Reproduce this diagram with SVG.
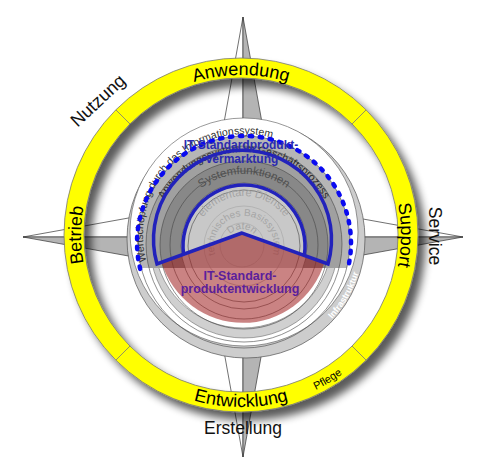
<svg xmlns="http://www.w3.org/2000/svg" width="477" height="472" viewBox="0 0 477 472">
<defs>
<style>
text{font-family:"Liberation Sans",Arial,sans-serif}
.nw{fill:#fff;stroke:#333;stroke-width:0.7;stroke-linejoin:round}
.ng{fill:#b4b4b4;stroke:#333;stroke-width:0.7;stroke-linejoin:round}
.rt{font-size:18px;fill:#000}
.ot{font-size:17.5px;fill:#111}
.ol{fill:none;stroke:#444;stroke-width:0.6}
.oll{fill:none;stroke:#a9a9a9;stroke-width:0.7}
.div{stroke:#777;stroke-width:0.8}
</style>
<filter id="shadow" x="-15%" y="-15%" width="135%" height="135%">
<feGaussianBlur in="SourceAlpha" stdDeviation="4.5"/>
<feOffset dx="7" dy="8"/>
<feComponentTransfer><feFuncA type="linear" slope="0.65"/></feComponentTransfer>
<feMerge><feMergeNode/><feMergeNode in="SourceGraphic"/></feMerge>
</filter>
<clipPath id="cut"><rect x="0" y="0" width="477" height="268"/></clipPath>
<path id="pTop" d="M241,395 A160,160 0 1 1 241,75 A160,160 0 1 1 241,395"/>
<path id="pRight" d="M81,235 A160,160 0 1 1 401,235 A160,160 0 1 1 81,235"/>
<path id="pLeft" d="M401,235 A160,160 0 1 1 81,235 A160,160 0 1 1 401,235"/>
<path id="pBot" d="M241,63 A172,172 0 1 0 241,407 A172,172 0 1 0 241,63"/>
<path id="pDaten" d="M242,261 A16,16 0 1 1 242,229 A16,16 0 1 1 242,261"/>
<path id="pBasis" d="M244,276 A30,30 0 1 1 244,216 A30,30 0 1 1 244,276"/>
<path id="pElem" d="M244,296 A50,50 0 1 1 244,196 A50,50 0 1 1 244,296"/>
<path id="pSys" d="M244,318 A72,72 0 1 1 244,174 A72,72 0 1 1 244,318"/>
<path id="pAnw" d="M244,336 A92,92 0 1 1 244,152 A92,92 0 1 1 244,336"/>
<path id="pWert" d="M244,336 A101,101 0 1 1 244,134 A101,101 0 1 1 244,336"/>
<path id="pInfra" d="M246,121.5 A117.5,117.5 0 1 0 246,356.5 A117.5,117.5 0 1 0 246,121.5"/>
</defs>
<rect width="477" height="472" fill="#fff"/>

<g id="compass">
<polygon class="nw" points="243,17 216,167 243,237"/>
<polygon class="ng" points="243,17 270,167 243,237"/>
<polygon class="nw" points="243,457 216,307 243,237"/>
<polygon class="ng" points="243,457 270,307 243,237"/>
<polygon class="nw" points="23,237 173,210 243,237"/>
<polygon class="ng" points="23,237 173,264 243,237"/>
<polygon class="nw" points="463,237 313,210 243,237"/>
<polygon class="ng" points="463,237 313,264 243,237"/>
</g>

<g id="ring">
<path filter="url(#shadow)" fill="#ffff00" stroke="#777" stroke-width="0.8" fill-rule="evenodd" d="M241,58 A177,177 0 1 1 241,412 A177,177 0 1 1 241,58 Z M241,78 A157,157 0 1 0 241,392 A157,157 0 1 0 241,78 Z"/>
<line class="div" x1="352" y1="346" x2="366.2" y2="360.2"/>
<line class="div" x1="130" y1="346" x2="115.8" y2="360.2"/>
<line class="div" x1="130" y1="124" x2="115.8" y2="109.8"/>
<line class="div" x1="352" y1="124" x2="366.2" y2="109.8"/>
</g>

<g id="ring-labels">
<text class="rt"><textPath href="#pTop" startOffset="50%" text-anchor="middle">Anwendung</textPath></text>
<text class="rt"><textPath href="#pRight" startOffset="50%" text-anchor="middle">Support</textPath></text>
<text class="rt"><textPath href="#pLeft" startOffset="50%" text-anchor="middle">Betrieb</textPath></text>
<text class="rt"><textPath href="#pBot" startOffset="50%" text-anchor="middle">Entwicklung</textPath></text>
<text style="font-size:11px"><textPath href="#pBot" startOffset="58.6%" text-anchor="middle">Pflege</textPath></text>
</g>

<g id="outer-labels">
<text class="ot" text-anchor="middle" transform="translate(102,105) rotate(-43)" style="font-size:18px">Nutzung</text>
<text class="ot" text-anchor="middle" transform="translate(429,236) rotate(90)">Service</text>
<text class="ot" text-anchor="middle" x="243" y="434">Erstellung</text>
</g>

<g id="disc">
<circle cx="246" cy="239" r="119" fill="#cdcdcd" stroke="#555" stroke-width="0.7"/>
<circle cx="244" cy="232" r="114" fill="#fff" stroke="#555" stroke-width="0.6"/>
<circle cx="244" cy="244" r="94" fill="#d0d0d0" stroke="#555" stroke-width="0.5"/>
<circle cx="243" cy="239" r="89" fill="#fff" stroke="#555" stroke-width="0.5"/>
<text style="font-size:9px;font-weight:bold" fill="#fff"><textPath href="#pInfra" startOffset="66.7%" text-anchor="middle">Infrastruktur</textPath></text>
</g>

<g id="layers">
<g clip-path="url(#cut)">
<circle cx="244" cy="242" r="106" fill="#b6b6b6"/>
<circle cx="244" cy="244" r="98" fill="#a0a0a0"/>
<circle cx="244" cy="245" r="84" fill="#888"/>
<circle cx="244" cy="246" r="63" fill="#c8c8c8"/>
</g>
<circle class="ol" cx="244" cy="242" r="106"/>
<circle class="ol" cx="244" cy="244" r="98"/>
<circle class="ol" cx="244" cy="245" r="84"/>
<circle class="ol" cx="244" cy="245" r="74"/>
<circle class="ol" cx="244" cy="246" r="63"/>
<circle class="ol" cx="244" cy="246" r="56"/>
<circle class="oll" cx="244" cy="246" r="40"/>
<circle class="oll" cx="242" cy="245" r="22"/>
</g>

<g id="layer-labels">
<text style="font-size:10px" fill="#a4a4a4"><textPath href="#pDaten" startOffset="50%" text-anchor="middle">Daten</textPath></text>
<text style="font-size:10px" fill="#a6a6a6"><textPath href="#pBasis" startOffset="50%" text-anchor="middle">technisches Basissystem</textPath></text>
<text style="font-size:11px" fill="#a4a4a4"><textPath href="#pElem" startOffset="50%" text-anchor="middle">elementare Dienste</textPath></text>
<text style="font-size:11.5px" fill="#505050"><textPath href="#pSys" startOffset="50%" text-anchor="middle">Systemfunktionen</textPath></text>
<text style="font-size:10.5px" fill="#2a2a2a"><textPath href="#pAnw" startOffset="50%" text-anchor="middle">Anwendungssystem im Geschäftsprozess</textPath></text>
<text style="font-size:10.5px" fill="#333"><textPath href="#pWert" startOffset="20.8%">Wertschöpfung durch das Informationssystem</textPath></text>
</g>

<g id="entwicklung">
<path d="M242,233 L161.6,262.3 A85,85 0 0 0 324.3,262.7 Z" fill="#9e1e1e" fill-opacity="0.55"/>
</g>

<g id="vermarktung">
<path d="M140.2,268.9 A107,107 0 1 1 347.8,268.9" fill="none" stroke="#0a0af0" stroke-width="4.5" stroke-linecap="round" stroke-dasharray="2.5 7.5"/>
<path d="M242,233 L157,264 A89,89 0 1 1 328,264 Z" fill="none" stroke="#2222bb" stroke-width="3.5" stroke-linejoin="miter"/>
<path d="M183.6,254.3 A61,61 0 1 1 304.3,255.4" fill="none" stroke="#2222bb" stroke-width="3.5"/>
<text text-anchor="middle" style="font-size:12px;font-weight:bold" fill="#2b2bb0"><tspan x="241" y="149">IT-Standardprodukt-</tspan><tspan x="242" y="163">vermarktung</tspan></text>
</g>

<g id="entwicklung-label">
<text text-anchor="middle" style="font-size:12.5px;font-weight:bold" fill="#5b1f9c"><tspan x="240" y="280">IT-Standard-</tspan><tspan x="240" y="293">produktentwicklung</tspan></text>
</g>
</svg>
